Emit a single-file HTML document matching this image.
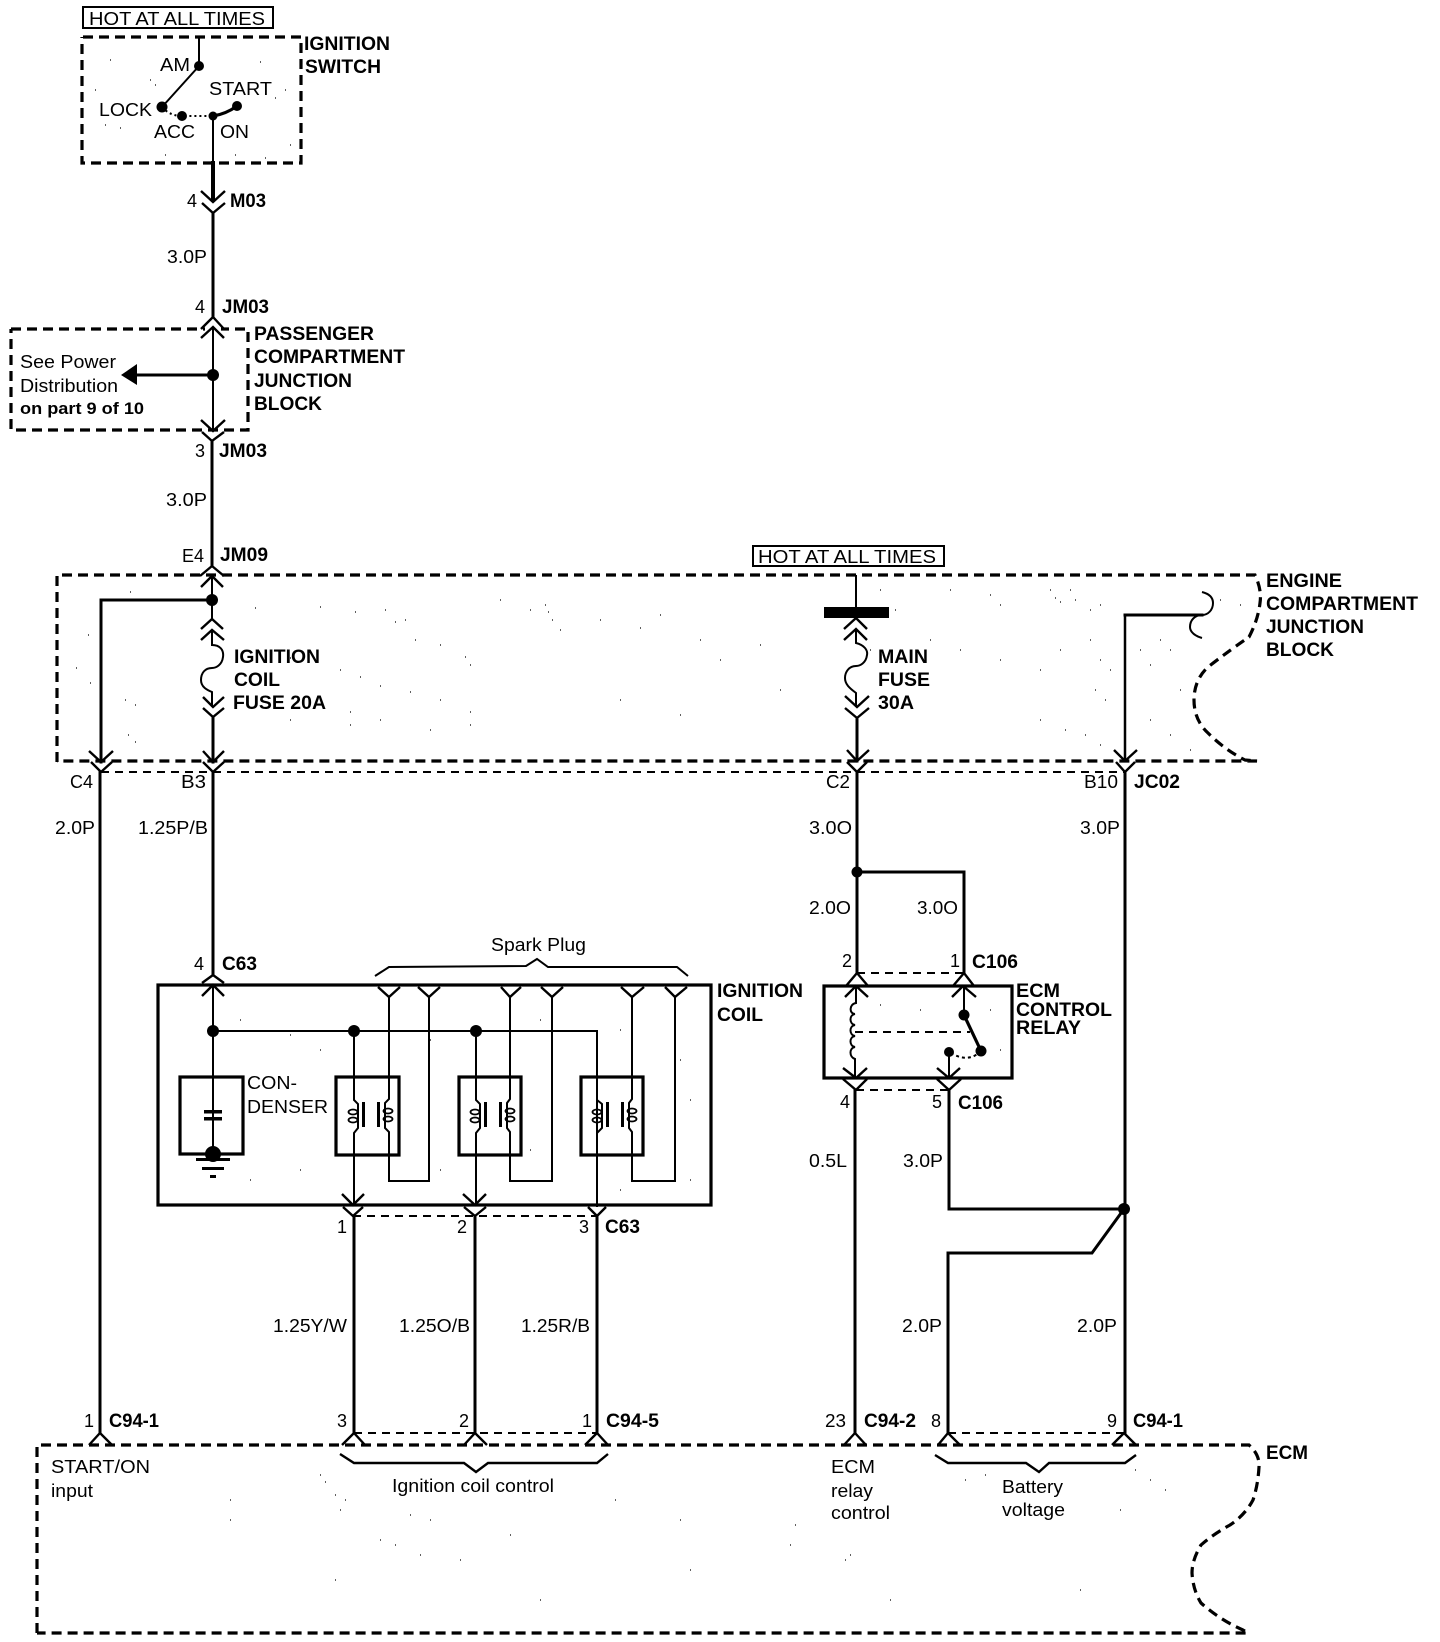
<!DOCTYPE html>
<html><head><meta charset="utf-8"><title>Ignition Coil Circuit</title>
<style>
html,body{margin:0;padding:0;background:#fff}
svg{display:block}
text{font-family:"Liberation Sans",sans-serif;font-size:18px;fill:#000}
text.b{font-weight:bold;font-size:19px}
.w{fill:none;stroke:#000;stroke-width:3;stroke-linecap:square}
.t{fill:none;stroke:#000;stroke-width:2}
.c{fill:none;stroke:#000;stroke-width:2.4}
.d{fill:none;stroke:#000;stroke-width:3.2;stroke-dasharray:10 6}
.s{fill:none;stroke:#000;stroke-width:2;stroke-dasharray:8 6}
.k{fill:none;stroke:#000;stroke-width:3.2}
.n{fill:none;stroke:#000;stroke-width:1.2}
circle{fill:#000}
</style></head><body>
<svg width="1440" height="1642" viewBox="0 0 1440 1642" xmlns="http://www.w3.org/2000/svg">
<!-- scan speckle -->
<path class="n" d="M110 60h1M95 90h1M150 80h1M155 85h1M105 125h1M120 128h1M260 62h1M285 90h1M275 98h1M165 155h1M290 145h1M265 158h1M235 155h1M100 620h1M130 592h1M88 635h1M76 668h1M90 683h1M125 700h1M135 705h1M128 735h1M135 742h1M255 608h1M320 607h1M355 612h1M385 610h1M395 622h1M405 620h1M415 640h1M440 645h1M465 657h1M470 665h1M290 658h1M340 670h1M360 677h1M380 686h1M410 692h1M440 700h1M470 712h1M350 712h1M290 720h1M380 720h1M350 725h1M430 730h1M470 725h1M500 600h1M530 610h1M560 630h1M600 620h1M640 628h1M660 615h1M700 640h1M720 660h1M760 645h1M780 690h1M620 700h1M680 715h1M545 605h1M548 612h1M552 620h1M880 590h1M895 610h1M870 650h1M900 650h1M950 590h1M990 595h1M1000 605h1M1050 590h1M1055 598h1M1060 602h1M1070 590h1M1075 600h1M1090 610h1M1100 605h1M930 640h1M960 650h1M1000 660h1M1040 670h1M1060 650h1M1090 640h1M1100 660h1M1110 670h1M1095 690h1M1105 700h1M1040 720h1M1065 730h1M1085 735h1M1100 745h1M1140 650h1M1150 665h1M1160 640h1M1170 650h1M1180 690h1M1150 720h1M1170 735h1M1190 750h1M1220 600h1M1240 605h1M240 1020h1M290 1035h1M320 1050h1M430 1040h1M540 1020h1M620 1030h1M680 1060h1M690 1100h1M250 1180h1M300 1170h1M440 1170h1M530 1150h1M620 1190h1M690 1180h1M990 1010h1M1000 1050h1M920 1010h1M880 1005h1M320 1475h1M325 1482h1M345 1500h1M340 1510h1M335 1495h1M430 1520h1M410 1515h1M380 1540h1M395 1545h1M420 1555h1M460 1560h1M510 1535h1M540 1600h1M335 1580h1M615 1500h1M680 1520h1M690 1570h1M230 1500h1M230 1520h1M795 1525h1M790 1545h1M850 1555h1M845 1560h1M890 1600h1M985 1475h1M965 1480h1M1135 1470h1M1150 1480h1M1165 1490h1M1120 1510h1M1080 1590h1"/>
<!-- dashed boxes -->
<path class="d" d="M83 37H301V163H82V37"/>
<path class="d" d="M11 329H248V430H11V329"/>
<path class="d" d="M57 762V575H1255Q1262 590 1260 603Q1258 620 1249 637Q1230 650 1208 667Q1194 680 1194 700Q1194 720 1208 733Q1225 750 1245 760L1257 761H57"/>
<path class="d" d="M37 1633V1445H1249Q1260 1455 1259 1467Q1258 1485 1253 1500Q1245 1515 1230 1525Q1212 1535 1201 1545Q1192 1560 1192 1573Q1193 1590 1201 1603Q1220 1620 1243 1630L1248 1633H37"/>
<!-- hot boxes -->
<rect x="83" y="7" width="190" height="21" fill="none" stroke="#000" stroke-width="2"/>
<text x="89" y="25" textLength="176" lengthAdjust="spacingAndGlyphs">HOT AT ALL TIMES</text>
<rect x="753" y="546" width="191" height="20" fill="none" stroke="#000" stroke-width="2"/>
<text x="758" y="563" textLength="178" lengthAdjust="spacingAndGlyphs">HOT AT ALL TIMES</text>
<!-- ignition switch -->
<path class="t" d="M199 37V66L162 107"/>
<path d="M162 107Q170 116 182 116H213" fill="none" stroke="#000" stroke-width="2" stroke-dasharray="2 3"/>
<path class="k" d="M213 116Q226 114 237 106"/>
<path class="t" d="M213 116V163"/>
<path class="w" d="M213 163V200" style="stroke-width:4"/>
<circle cx="199" cy="66" r="5"/><circle cx="162" cy="107" r="5.5"/><circle cx="182" cy="116" r="5"/><circle cx="213" cy="116" r="4.5"/><circle cx="237" cy="106" r="5"/>
<text x="160" y="71" textLength="30" lengthAdjust="spacingAndGlyphs">AM</text>
<text x="209" y="95" textLength="63" lengthAdjust="spacingAndGlyphs">START</text>
<text x="99" y="116" textLength="53" lengthAdjust="spacingAndGlyphs">LOCK</text>
<text x="154" y="138" textLength="41" lengthAdjust="spacingAndGlyphs">ACC</text>
<text x="220" y="138" textLength="29" lengthAdjust="spacingAndGlyphs">ON</text>
<text class="b" x="304" y="50" textLength="86" lengthAdjust="spacingAndGlyphs">IGNITION</text>
<text class="b" x="305" y="73" textLength="76" lengthAdjust="spacingAndGlyphs">SWITCH</text>
<!-- M03 -->
<polyline class="c" points="201,191 213,202 225,191"/>
<polyline class="c" points="202,203 213,213 225,203"/>
<path class="w" d="M213 214V317"/>
<text x="187" y="207">4</text><text class="b" x="230" y="207" textLength="36" lengthAdjust="spacingAndGlyphs">M03</text>
<text x="167" y="263" textLength="40" lengthAdjust="spacingAndGlyphs">3.0P</text>
<text x="195" y="313">4</text><text class="b" x="222" y="313" textLength="47" lengthAdjust="spacingAndGlyphs">JM03</text>
<!-- passenger junction -->
<rect x="205" y="320" width="16" height="18" fill="#fff"/>
<polyline class="c" points="201,329 213,317 224,329"/>
<polyline class="c" points="201,338 213,327 224,338"/>
<path class="t" d="M213 327V430"/>
<circle cx="213" cy="375" r="6"/>
<path class="w" d="M213 375H137"/>
<polygon points="121,375 137,364 137,385" fill="#000"/>
<polyline class="c" points="201,420 213,431 225,420"/>
<polyline class="c" points="202,432 212,441 224,432"/>
<path class="w" d="M212 442V566"/>
<text x="20" y="368" textLength="96" lengthAdjust="spacingAndGlyphs">See Power</text>
<text x="20" y="392" textLength="98" lengthAdjust="spacingAndGlyphs">Distribution</text>
<text class="b" style="font-size:17px" x="20" y="414" textLength="124" lengthAdjust="spacingAndGlyphs">on part 9 of 10</text>
<text class="b" x="254" y="340" textLength="120" lengthAdjust="spacingAndGlyphs">PASSENGER</text>
<text class="b" x="254" y="363" textLength="151" lengthAdjust="spacingAndGlyphs">COMPARTMENT</text>
<text class="b" x="254" y="387" textLength="98" lengthAdjust="spacingAndGlyphs">JUNCTION</text>
<text class="b" x="254" y="410" textLength="68" lengthAdjust="spacingAndGlyphs">BLOCK</text>
<text x="195" y="457">3</text><text class="b" x="219" y="457" textLength="48" lengthAdjust="spacingAndGlyphs">JM03</text>
<text x="166" y="506" textLength="41" lengthAdjust="spacingAndGlyphs">3.0P</text>
<text x="182" y="562" textLength="22" lengthAdjust="spacingAndGlyphs">E4</text><text class="b" x="220" y="561" textLength="48" lengthAdjust="spacingAndGlyphs">JM09</text>
<!-- engine compartment: ignition fuse -->
<polyline class="c" points="200,576 212,566 224,576"/>
<polyline class="c" points="201,587 212,576 223,587"/>
<path class="t" d="M212 576V619"/>
<path class="w" d="M212 600H101V762"/>
<circle cx="212" cy="600" r="6"/>
<polyline class="c" points="201,629 212,619 223,629"/>
<polyline class="c" points="201,640 212,630 224,640"/>
<path class="t" d="M212 630V645C220 645 224 650 223 657C222 665 216 668 212 668C205 668 201 673 201 680C201 687 207 690 212 692V707"/>
<polyline class="c" points="203,697 213,707 224,697"/>
<polyline class="c" points="203,708 213,717 224,708"/>
<path class="w" d="M213 719V762"/>
<polyline class="c" points="203,751 213,762 224,751"/>
<polyline class="c" points="203,762 213,772 224,762"/>
<polyline class="c" points="89,751 101,762 113,751"/>
<polyline class="c" points="91,762 101,772 112,762"/>
<text class="b" x="234" y="663" textLength="86" lengthAdjust="spacingAndGlyphs">IGNITION</text>
<text class="b" x="234" y="686" textLength="46" lengthAdjust="spacingAndGlyphs">COIL</text>
<text class="b" x="233" y="709" textLength="93" lengthAdjust="spacingAndGlyphs">FUSE 20A</text>
<!-- main fuse -->
<path class="t" d="M856 575V607"/>
<rect x="824" y="607" width="65" height="11" fill="#000"/>
<polyline class="c" points="844,629 856,618 867,629"/>
<polyline class="c" points="844,640 856,629 867,640"/>
<path class="t" d="M856 629V643C864 645 868 650 867 655C866 663 860 666 856 666C849 666 845 672 845 678C845 685 851 689 856 693V707"/>
<polyline class="c" points="845,696 857,707 869,696"/>
<polyline class="c" points="845,708 857,718 869,708"/>
<path class="w" d="M857 720V761"/>
<polyline class="c" points="847,750 857,761 869,750"/>
<polyline class="c" points="847,762 857,772 867,762"/>
<text class="b" x="878" y="663" textLength="50" lengthAdjust="spacingAndGlyphs">MAIN</text>
<text class="b" x="878" y="686" textLength="52" lengthAdjust="spacingAndGlyphs">FUSE</text>
<text class="b" x="878" y="709" textLength="36" lengthAdjust="spacingAndGlyphs">30A</text>
<!-- right feed -->
<path class="t" d="M1125 761V615" style="stroke-width:2.5"/>
<path class="w" d="M1125 615H1202"/>
<path class="t" d="M1202 592C1210 594 1213 598 1213 603C1213 610 1208 615 1202 615C1195 615 1190 620 1190 627C1190 632 1195 636 1202 638"/>
<polyline class="c" points="1114,750 1125,761 1137,750"/>
<polyline class="c" points="1116,762 1125,772 1135,762"/>
<text class="b" x="1266" y="587" textLength="76" lengthAdjust="spacingAndGlyphs">ENGINE</text>
<text class="b" x="1266" y="610" textLength="152" lengthAdjust="spacingAndGlyphs">COMPARTMENT</text>
<text class="b" x="1266" y="633" textLength="98" lengthAdjust="spacingAndGlyphs">JUNCTION</text>
<text class="b" x="1266" y="656" textLength="68" lengthAdjust="spacingAndGlyphs">BLOCK</text>
<!-- connector row -->
<path class="s" d="M101 772H1125"/>
<text x="70" y="788" textLength="23" lengthAdjust="spacingAndGlyphs">C4</text>
<text x="181" y="788" textLength="25" lengthAdjust="spacingAndGlyphs">B3</text>
<text x="826" y="788" textLength="24" lengthAdjust="spacingAndGlyphs">C2</text>
<text x="1084" y="788" textLength="34" lengthAdjust="spacingAndGlyphs">B10</text>
<text class="b" x="1134" y="788" textLength="46" lengthAdjust="spacingAndGlyphs">JC02</text>
<text x="55" y="834" textLength="40" lengthAdjust="spacingAndGlyphs">2.0P</text>
<text x="138" y="834" textLength="70" lengthAdjust="spacingAndGlyphs">1.25P/B</text>
<text x="809" y="834" textLength="43" lengthAdjust="spacingAndGlyphs">3.0O</text>
<text x="1080" y="834" textLength="40" lengthAdjust="spacingAndGlyphs">3.0P</text>
<!-- long wires -->
<path class="w" d="M100 772V1433"/>
<path class="w" d="M213 772V975"/>
<path class="w" d="M857 772V973"/>
<path class="w" d="M1125 772V1433"/>
<circle cx="857" cy="872" r="5.5"/>
<path class="w" d="M857 872H964V973"/>
<text x="809" y="914" textLength="42" lengthAdjust="spacingAndGlyphs">2.0O</text>
<text x="917" y="914" textLength="41" lengthAdjust="spacingAndGlyphs">3.0O</text>
<!-- ignition coil box -->
<rect x="158" y="985" width="553" height="220" fill="none" stroke="#000" stroke-width="3.2"/>
<text x="194" y="970">4</text><text class="b" x="222" y="970" textLength="35" lengthAdjust="spacingAndGlyphs">C63</text>
<polyline class="c" points="202,983 213,975 224,983"/>
<polyline class="c" points="202,996 213,985 224,996"/>
<path class="t" d="M213 985V1153"/>
<circle cx="213" cy="1031" r="6"/><circle cx="354" cy="1031" r="6"/><circle cx="476" cy="1031" r="6"/>
<path class="t" d="M213 1031H597V1207"/>
<!-- condenser -->
<rect x="180" y="1077" width="63" height="77" fill="none" stroke="#000" stroke-width="3.2"/>
<rect x="204" y="1110" width="18" height="3.5" fill="#000"/><rect x="204" y="1117" width="18" height="3.5" fill="#000"/>
<circle cx="213" cy="1154" r="8"/>
<rect x="196" y="1158" width="34" height="3" fill="#000"/><rect x="202" y="1167" width="22" height="3" fill="#000"/><rect x="210" y="1175" width="6" height="3" fill="#000"/>
<text x="247" y="1089" textLength="50" lengthAdjust="spacingAndGlyphs">CON-</text>
<text x="247" y="1113" textLength="81" lengthAdjust="spacingAndGlyphs">DENSER</text>
<!-- coil modules -->
<g>
<rect x="336" y="1077" width="63" height="78" fill="none" stroke="#000" stroke-width="3.2"/>
<path class="t" d="M354 1031V1100L358 1104V1128L354 1133V1205"/>
<ellipse cx="353" cy="1112" rx="4.5" ry="2.5" fill="none" stroke="#000" stroke-width="1.8"/>
<ellipse cx="353" cy="1120" rx="4.5" ry="2.5" fill="none" stroke="#000" stroke-width="1.8"/>
<rect x="362" y="1102" width="3" height="25" fill="#000"/><rect x="377" y="1102" width="3" height="25" fill="#000"/>
<path class="t" d="M389 997V1099L385 1103V1128L389 1132V1181H429V997"/>
<ellipse cx="388" cy="1111" rx="4.5" ry="2.5" fill="none" stroke="#000" stroke-width="1.8"/>
<ellipse cx="388" cy="1119" rx="4.5" ry="2.5" fill="none" stroke="#000" stroke-width="1.8"/>
<polyline class="c" points="378,987 389,997 400,987"/>
<polyline class="c" points="418,987 429,997 440,987"/>
</g>
<g transform="translate(122 0)">
<rect x="337" y="1077" width="62" height="78" fill="none" stroke="#000" stroke-width="3.2"/>
<path class="t" d="M354 1031V1100L358 1104V1128L354 1133V1205"/>
<ellipse cx="353" cy="1112" rx="4.5" ry="2.5" fill="none" stroke="#000" stroke-width="1.8"/>
<ellipse cx="353" cy="1120" rx="4.5" ry="2.5" fill="none" stroke="#000" stroke-width="1.8"/>
<rect x="362" y="1102" width="3" height="25" fill="#000"/><rect x="377" y="1102" width="3" height="25" fill="#000"/>
<path class="t" d="M388 997V1099L385 1103V1128L388 1132V1181H430V997"/>
<ellipse cx="388" cy="1111" rx="4.5" ry="2.5" fill="none" stroke="#000" stroke-width="1.8"/>
<ellipse cx="388" cy="1119" rx="4.5" ry="2.5" fill="none" stroke="#000" stroke-width="1.8"/>
<polyline class="c" points="379,987 388,997 399,987"/>
<polyline class="c" points="419,987 430,997 441,987"/>
</g>
<g transform="translate(244 0)">
<rect x="337" y="1077" width="62" height="78" fill="none" stroke="#000" stroke-width="3.2"/>
<path class="t" d="M353 1100L358 1104V1128L353 1133"/>
<ellipse cx="353" cy="1112" rx="4.5" ry="2.5" fill="none" stroke="#000" stroke-width="1.8"/>
<ellipse cx="353" cy="1120" rx="4.5" ry="2.5" fill="none" stroke="#000" stroke-width="1.8"/>
<rect x="362" y="1102" width="3" height="25" fill="#000"/><rect x="377" y="1102" width="3" height="25" fill="#000"/>
<path class="t" d="M388 997V1099L385 1103V1128L388 1132V1181H431V997"/>
<ellipse cx="388" cy="1111" rx="4.5" ry="2.5" fill="none" stroke="#000" stroke-width="1.8"/>
<ellipse cx="388" cy="1119" rx="4.5" ry="2.5" fill="none" stroke="#000" stroke-width="1.8"/>
<polyline class="c" points="377,987 388,997 400,987"/>
<polyline class="c" points="421,987 431,997 443,987"/>
</g>
<!-- spark plug bracket -->
<polyline class="t" points="375,976 389,967 526,966 537,959 548,967 677,967 688,976"/>
<text x="491" y="951" textLength="95" lengthAdjust="spacingAndGlyphs">Spark Plug</text>
<text class="b" x="717" y="997" textLength="86" lengthAdjust="spacingAndGlyphs">IGNITION</text>
<text class="b" x="717" y="1021" textLength="46" lengthAdjust="spacingAndGlyphs">COIL</text>
<!-- coil bottom connectors -->
<polyline class="c" points="342,1194 353,1205 364,1194"/>
<polyline class="c" points="343,1207 353,1216 363,1207"/>
<polyline class="c" points="463,1194 475,1205 486,1194"/>
<polyline class="c" points="464,1207 475,1216 486,1207"/>
<polyline class="c" points="588,1207 597,1216 606,1207"/>
<path class="s" d="M353 1216H597"/>
<path class="w" d="M354 1216V1433"/><path class="w" d="M475 1216V1433"/><path class="w" d="M597 1216V1433"/>
<text x="337" y="1233">1</text><text x="457" y="1233">2</text><text x="579" y="1233">3</text>
<text class="b" x="605" y="1233" textLength="35" lengthAdjust="spacingAndGlyphs">C63</text>
<text x="273" y="1332" textLength="74" lengthAdjust="spacingAndGlyphs">1.25Y/W</text>
<text x="399" y="1332" textLength="71" lengthAdjust="spacingAndGlyphs">1.25O/B</text>
<text x="521" y="1332" textLength="69" lengthAdjust="spacingAndGlyphs">1.25R/B</text>
<!-- ECM control relay -->
<text x="842" y="967">2</text><text x="950" y="967">1</text>
<text class="b" x="972" y="968" textLength="46" lengthAdjust="spacingAndGlyphs">C106</text>
<path class="s" d="M857 973H964"/>
<rect x="824" y="986" width="188" height="92" fill="none" stroke="#000" stroke-width="3.2"/>
<polyline class="c" points="846,986 857,973 868,986"/>
<polyline class="c" points="845,997 856,986 868,997"/>
<polyline class="c" points="953,986 964,973 974,986"/>
<polyline class="c" points="952,997 963,986 976,997"/>
<path class="t" d="M856 986V1003C849 1004 849 1014 855 1014C849 1015 849 1024 855 1025C849 1026 849 1035 855 1036C849 1037 849 1046 855 1047C849 1048 849 1057 855 1059V1078"/>
<path class="s" d="M855 1032H970"/>
<path class="t" d="M964 986V1015"/>
<circle cx="964" cy="1015" r="5.5"/>
<path class="k" d="M964 1015L981 1051"/>
<circle cx="981" cy="1051" r="5.5"/>
<path d="M981 1051Q968 1064 949 1052" fill="none" stroke="#000" stroke-width="2" stroke-dasharray="3 3"/>
<circle cx="949" cy="1052" r="5"/>
<path class="t" d="M949 1052V1078"/>
<polyline class="c" points="843,1068 856,1078 867,1068"/>
<polyline class="c" points="843,1079 856,1090 867,1079"/>
<polyline class="c" points="937,1068 949,1078 960,1068"/>
<polyline class="c" points="937,1079 949,1090 961,1079"/>
<path class="s" d="M856 1090H949"/>
<text class="b" x="1016" y="997" textLength="44" lengthAdjust="spacingAndGlyphs">ECM</text>
<text class="b" x="1016" y="1016" textLength="96" lengthAdjust="spacingAndGlyphs">CONTROL</text>
<text class="b" x="1016" y="1034" textLength="65" lengthAdjust="spacingAndGlyphs">RELAY</text>
<text x="840" y="1108">4</text><text x="932" y="1108">5</text>
<text class="b" x="958" y="1109" textLength="45" lengthAdjust="spacingAndGlyphs">C106</text>
<text x="809" y="1167" textLength="38" lengthAdjust="spacingAndGlyphs">0.5L</text>
<text x="903" y="1167" textLength="40" lengthAdjust="spacingAndGlyphs">3.0P</text>
<path class="w" d="M855 1090V1433"/>
<path class="w" d="M949 1090V1209H1124"/>
<circle cx="1124" cy="1209" r="6"/>
<path class="w" d="M1124 1209L1092 1253H948V1433"/>
<text x="902" y="1332" textLength="40" lengthAdjust="spacingAndGlyphs">2.0P</text>
<text x="1077" y="1332" textLength="40" lengthAdjust="spacingAndGlyphs">2.0P</text>
<!-- ECM connectors -->
<text x="84" y="1427">1</text><text class="b" x="109" y="1427" textLength="50" lengthAdjust="spacingAndGlyphs">C94-1</text>
<text x="337" y="1427">3</text><text x="459" y="1427">2</text><text x="582" y="1427">1</text>
<text class="b" x="606" y="1427" textLength="53" lengthAdjust="spacingAndGlyphs">C94-5</text>
<text x="825" y="1427" textLength="21" lengthAdjust="spacingAndGlyphs">23</text>
<text class="b" x="864" y="1427" textLength="52" lengthAdjust="spacingAndGlyphs">C94-2</text>
<text x="931" y="1427">8</text><text x="1107" y="1427">9</text>
<text class="b" x="1133" y="1427" textLength="50" lengthAdjust="spacingAndGlyphs">C94-1</text>
<path class="s" d="M354 1433H597"/><path class="s" d="M948 1433H1124"/>
<polyline class="c" points="89,1445 100,1433 112,1445"/>
<polyline class="c" points="342,1445 354,1433 365,1445"/>
<polyline class="c" points="464,1445 475,1433 487,1445"/>
<polyline class="c" points="585,1445 597,1433 608,1445"/>
<polyline class="c" points="844,1445 855,1433 866,1445"/>
<polyline class="c" points="938,1445 948,1433 960,1445"/>
<polyline class="c" points="1112,1445 1124,1433 1136,1445"/>
<polyline class="c" points="340,1454 354,1463 464,1463 476,1472 488,1463 597,1463 608,1454"/>
<polyline class="c" points="935,1455 948,1463 1026,1463 1039,1472 1049,1463 1125,1463 1136,1455"/>
<text x="51" y="1473" textLength="99" lengthAdjust="spacingAndGlyphs">START/ON</text>
<text x="51" y="1497" textLength="42" lengthAdjust="spacingAndGlyphs">input</text>
<text x="392" y="1492" textLength="162" lengthAdjust="spacingAndGlyphs">Ignition coil control</text>
<text x="831" y="1473" textLength="44" lengthAdjust="spacingAndGlyphs">ECM</text>
<text x="831" y="1497" textLength="42" lengthAdjust="spacingAndGlyphs">relay</text>
<text x="831" y="1519" textLength="59" lengthAdjust="spacingAndGlyphs">control</text>
<text x="1002" y="1493" textLength="61" lengthAdjust="spacingAndGlyphs">Battery</text>
<text x="1002" y="1516" textLength="63" lengthAdjust="spacingAndGlyphs">voltage</text>
<text class="b" x="1266" y="1459" textLength="42" lengthAdjust="spacingAndGlyphs">ECM</text>
</svg>
</body></html>
